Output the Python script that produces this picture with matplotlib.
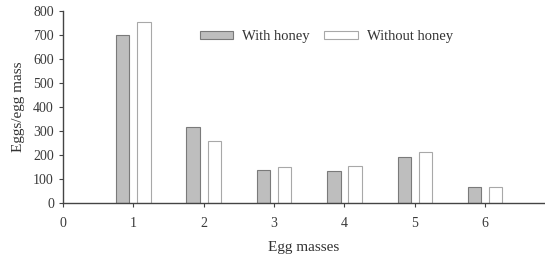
import numpy as np
import matplotlib
matplotlib.use('Agg')
import matplotlib.pyplot as plt

# egg counts per egg mass
egg_masses = [1, 2, 3, 4, 5, 6]
with_honey = [700, 316, 137, 134, 193, 67]
without_honey = [755, 260, 152, 154, 213, 67]

plt.rcParams['font.family'] = ['Liberation Serif', 'DejaVu Serif']

fig = plt.figure(figsize = (5.45, 2.61), dpi = 100)
ax = fig.add_axes([63.0 / 545, 1 - 203.0 / 261, 1 - 63.0 / 545, 192.0 / 261])

x = np.array(egg_masses, dtype = float)
w = 0.19
ax.bar(x - 0.15, with_honey, width = w, color = '#bebebe', edgecolor = '#7a7a7a',
    linewidth = 0.8, label = 'With honey')
ax.bar(x + 0.15, without_honey, width = w, color = 'white', edgecolor = '#a8a8a8',
    linewidth = 0.8, label = 'Without honey')

ax.set_xlim(0, 6.85)
ax.set_ylim(0, 800)
ax.set_xticks(range(0, 7))
ax.set_yticks(np.arange(0, 801, 100))

for s in ['top', 'right']:
    ax.spines[s].set_visible(False)
for s in ['left', 'bottom']:
    ax.spines[s].set_color('#444444')
    ax.spines[s].set_linewidth(1.0)
ax.tick_params(colors = '#444444', labelcolor = '#3a3a3a', labelsize = 10, length = 3, width = 0.8)
ax.tick_params(axis = 'x', pad = 7)

ax.set_xlabel('Egg masses', fontsize = 11, color = '#333333', labelpad = 8)
ax.set_ylabel('Eggs/egg mass', fontsize = 11, color = '#333333', labelpad = 6)

ax.legend(loc = 'upper center', bbox_to_anchor = (0.546, 0.97), ncol = 2, frameon = False,
    fontsize = 10.5, handlelength = 2.3, handleheight = 0.5, columnspacing = 1.0,
    handletextpad = 0.6, labelcolor = '#333333')

fig.savefig('out.png', dpi = 100)
